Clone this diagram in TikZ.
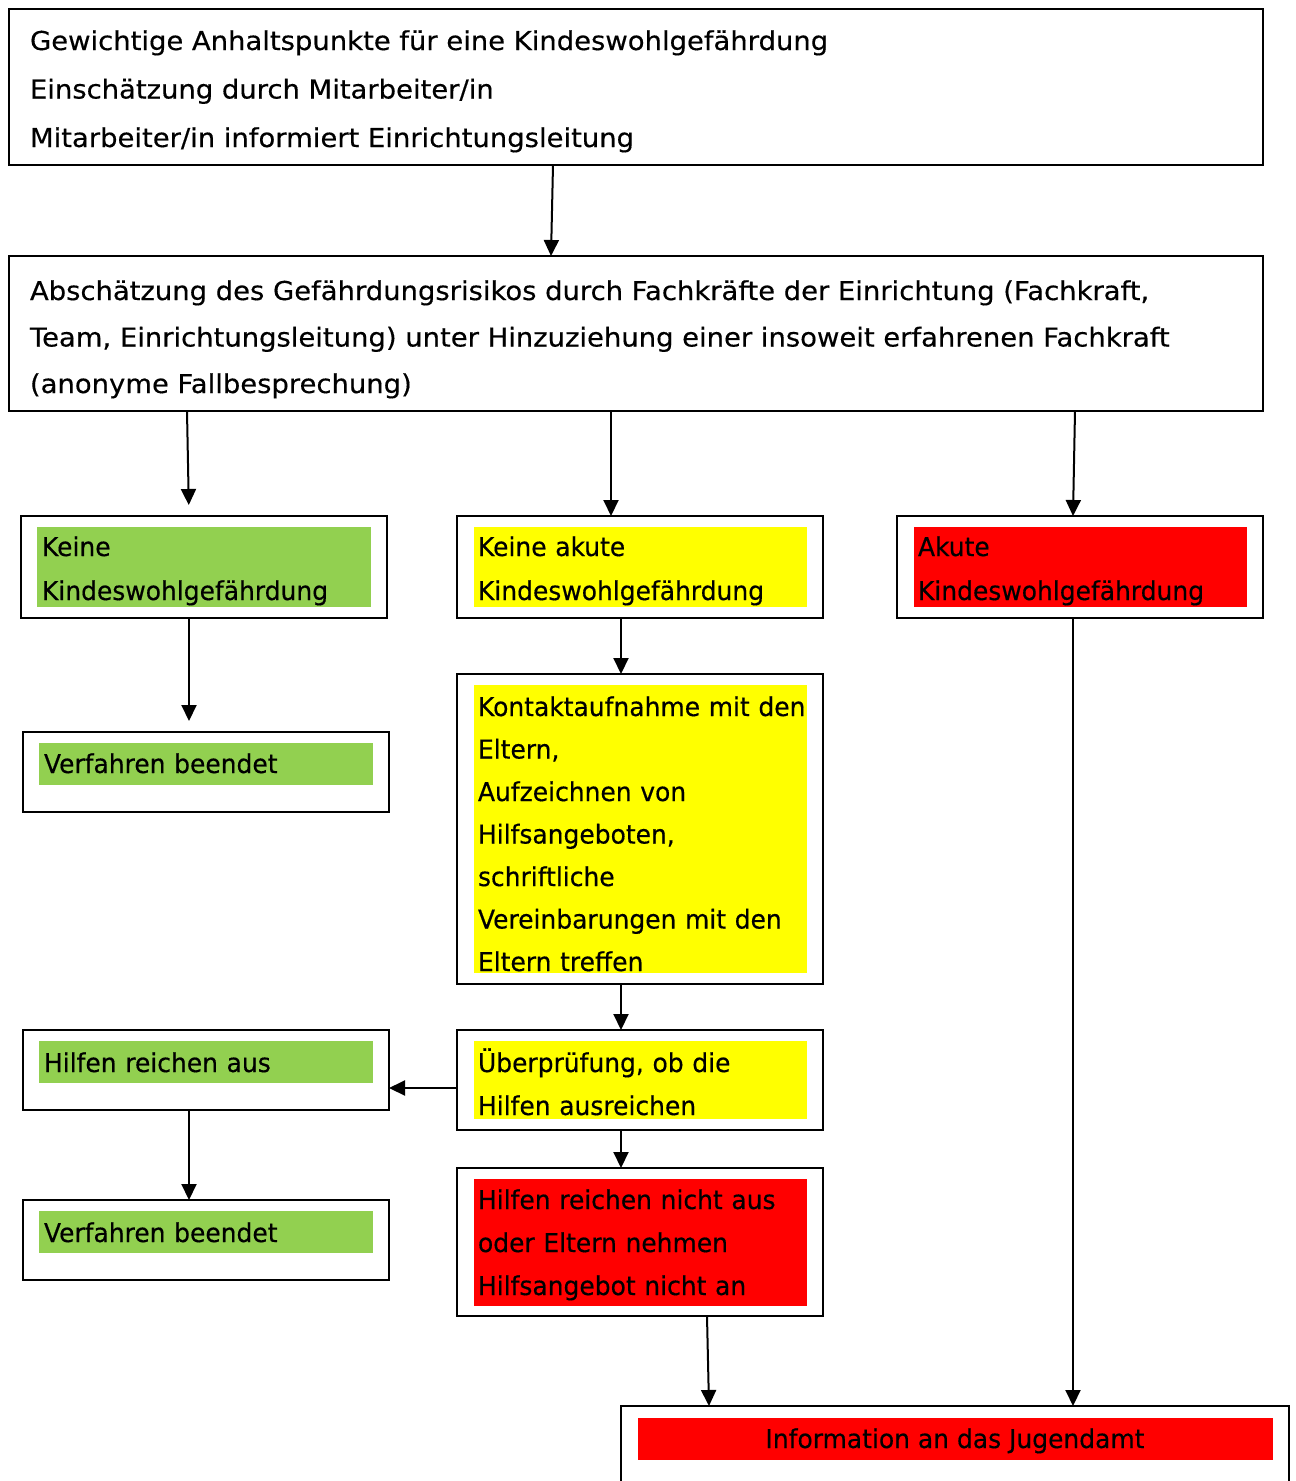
\documentclass[tikz,border=0pt]{standalone}
\usepackage{fontspec}
\setmainfont{DejaVu Sans}[FakeStretch=0.96,FakeBold=0.4]
\newfontfamily\bigfont{DejaVu Sans}[FakeStretch=1.055,FakeBold=0.4]
\usetikzlibrary{arrows.meta,calc}
\definecolor{kgreen}{RGB}{146,208,80}
\definecolor{kyellow}{RGB}{255,255,0}
\definecolor{kred}{RGB}{255,0,0}
\tikzset{
  box/.style={draw=black, line width=2pt, fill=white, anchor=north west, inner sep=0pt, outer sep=0pt},
  band/.style={anchor=north west, inner sep=0pt, outer sep=0pt},
  txt/.style={anchor=base west, inner sep=0pt, outer sep=0pt, align=left, text width=#1},
  txt/.default=340pt,
  arr/.style={line width=2pt, -{Triangle[length=16pt,width=15pt]}},
}
\begin{document}
\begin{tikzpicture}[x=1pt,y=-1pt]
\useasboundingbox (0,0) rectangle (1296,1481);
\fill[white] (0,0) rectangle (1296,1481);
% boxes
\node[box, minimum width=1254pt, minimum height=156pt] (b1) at (9,9) {};
\node[box, minimum width=1254pt, minimum height=155pt] (b2) at (9,256) {};
\node[box, minimum width=366pt, minimum height=102pt] (g1) at (21,516) {};
\node[box, minimum width=366pt, minimum height=102pt] (y1) at (457,516) {};
\node[box, minimum width=366pt, minimum height=102pt] (r1) at (897,516) {};
\node[box, minimum width=366pt, minimum height=80pt] (v1) at (23,732) {};
\node[box, minimum width=366pt, minimum height=310pt] (k) at (457,674) {};
\node[box, minimum width=366pt, minimum height=100pt] (u) at (457,1030) {};
\node[box, minimum width=366pt, minimum height=80pt] (h) at (23,1030) {};
\node[box, minimum width=366pt, minimum height=80pt] (v2) at (23,1200) {};
\node[box, minimum width=366pt, minimum height=148pt] (nr) at (457,1168) {};
\node[box, minimum width=668pt, minimum height=120pt] (ja) at (621,1406) {};
% colour bands
\node[band, fill=kgreen, minimum width=334pt, minimum height=80pt] (g1f) at (37,527) {};
\node[band, fill=kyellow, minimum width=333pt, minimum height=80pt] (y1f) at (474,527) {};
\node[band, fill=kred, minimum width=333pt, minimum height=80pt] (r1f) at (914,527) {};
\node[band, fill=kgreen, minimum width=334pt, minimum height=42pt] (v1f) at (39,743) {};
\node[band, fill=kyellow, minimum width=333pt, minimum height=288pt] (kf) at (474,685) {};
\node[band, fill=kyellow, minimum width=333pt, minimum height=78pt] (uf) at (474,1041) {};
\node[band, fill=kgreen, minimum width=334pt, minimum height=42pt] (hf) at (39,1041) {};
\node[band, fill=kgreen, minimum width=334pt, minimum height=42pt] (v2f) at (39,1211) {};
\node[band, fill=kred, minimum width=333pt, minimum height=127pt] (nrf) at (474,1179) {};
\node[band, fill=kred, minimum width=635pt, minimum height=42pt] (jaf) at (638,1418) {};
% texts
\node[txt=1220pt, font=\bigfont\fontsize{26}{48.5}\selectfont] (t1) at (30,50) {Gewichtige Anhaltspunkte für eine Kindeswohlgefährdung\\Einschätzung durch Mitarbeiter/in\\Mitarbeiter/in informiert Einrichtungsleitung};
\node[txt=1220pt, font=\bigfont\fontsize{26}{46.5}\selectfont] (t2) at (30,300) {Abschätzung des Gefährdungsrisikos durch Fachkräfte der Einrichtung (Fachkraft,\\Team, Einrichtungsleitung) unter Hinzuziehung einer insoweit erfahrenen Fachkraft\\(anonyme Fallbesprechung)};
\node[txt, font=\fontsize{26}{44}\selectfont] (tg1) at (42,556) {Keine\\Kindeswohlgefährdung};
\node[txt, font=\fontsize{26}{44}\selectfont] (ty1) at (478,556) {Keine akute\\Kindeswohlgefährdung};
\node[txt, font=\fontsize{26}{44}\selectfont] (tr1) at (918,556) {Akute\\Kindeswohlgefährdung};
\node[txt, font=\fontsize{26}{43}\selectfont] (tv1) at (44,773) {Verfahren beendet};
\node[txt, font=\fontsize{26}{42.5}\selectfont] (tk) at (478,716) {Kontaktaufnahme mit den\\Eltern,\\Aufzeichnen von\\Hilfsangeboten,\\schriftliche\\Vereinbarungen mit den\\Eltern treffen};
\node[txt, font=\fontsize{26}{43}\selectfont] (tu) at (478,1072) {Überprüfung, ob die\\Hilfen ausreichen};
\node[txt, font=\fontsize{26}{43}\selectfont] (th) at (44,1072) {Hilfen reichen aus};
\node[txt, font=\fontsize{26}{43}\selectfont] (tv2) at (44,1242) {Verfahren beendet};
\node[txt, font=\fontsize{26}{43}\selectfont] (tnr) at (478,1209) {Hilfen reichen nicht aus\\oder Eltern nehmen\\Hilfsangebot nicht an};
\node[anchor=base, inner sep=0pt, font=\fontsize{26}{43}\selectfont] (tja) at (955,1448) {Information an das Jugendamt};
% connectors
\draw[arr] ([xshift=544pt]b1.south west) -- ([xshift=542pt]b2.north west);
\draw[arr, shorten >=11pt] ([xshift=178pt]b2.south west) -- ([xshift=168pt]g1.north west);
\draw[arr] ([xshift=602pt]b2.south west) -- ([xshift=154pt]y1.north west);
\draw[arr] ([xshift=1066pt]b2.south west) -- ([xshift=176pt]r1.north west);
\draw[arr, shorten >=11pt] ([xshift=168pt]g1.south west) -- ([xshift=166pt]v1.north west);
\draw[arr] ([xshift=164pt]y1.south west) -- ([xshift=164pt]k.north west);
\draw[arr] ([xshift=164pt]k.south west) -- ([xshift=164pt]u.north west);
\draw[arr] ([yshift=-58pt]u.north west) -- ([yshift=-58pt]h.north east);
\draw[arr] ([xshift=166pt]h.south west) -- ([xshift=166pt]v2.north west);
\draw[arr] ([xshift=164pt]u.south west) -- ([xshift=164pt]nr.north west);
\draw[arr] ([xshift=250pt]nr.south west) -- ([xshift=88pt]ja.north west);
\draw[arr] ([xshift=176pt]r1.south west) -- ([xshift=452pt]ja.north west);
\end{tikzpicture}
\end{document}
